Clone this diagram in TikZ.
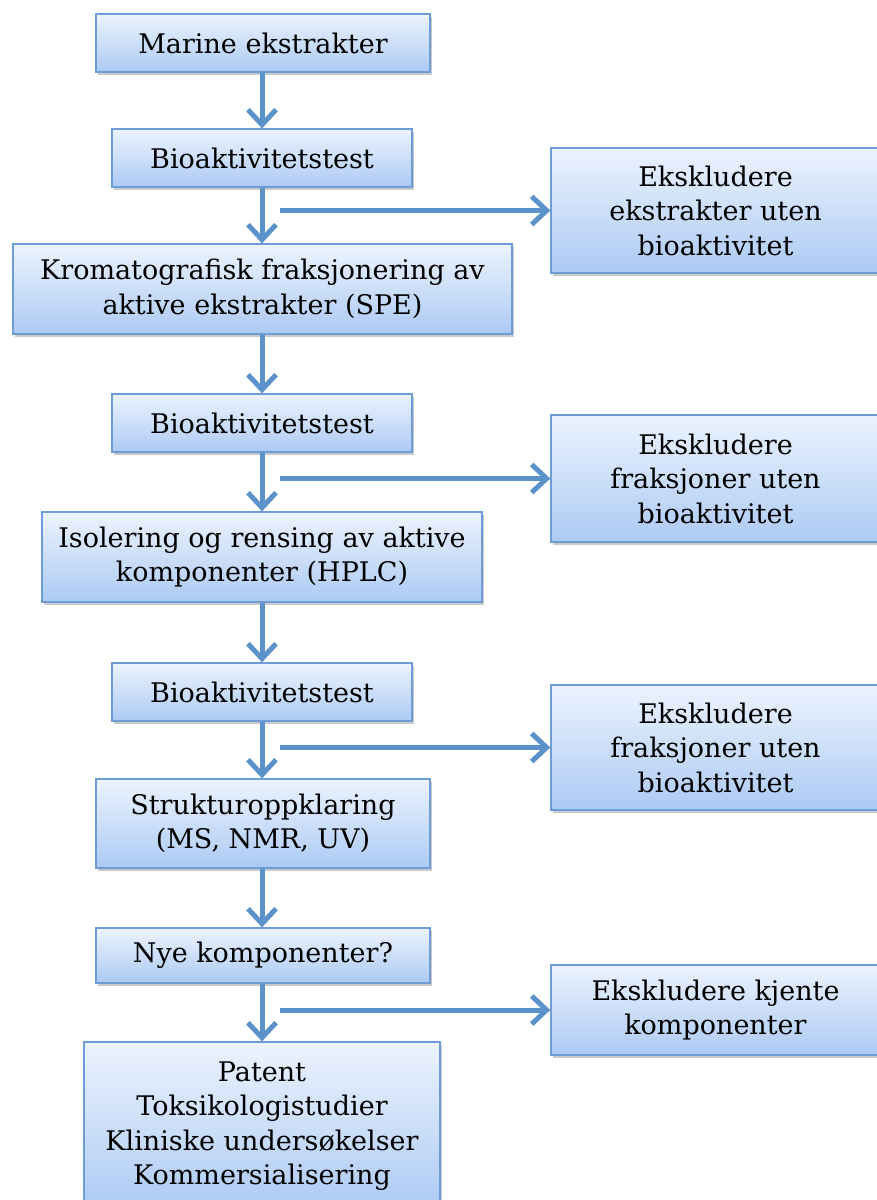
\documentclass[tikz,border=0pt]{standalone}
\usepackage{fontspec}
\setmainfont{DejaVu Serif}
\usetikzlibrary{arrows.meta,shadows}
\definecolor{arrowblue}{RGB}{92,146,202}
\definecolor{boxborder}{RGB}{110,156,212}
\definecolor{boxtop}{RGB}{236,243,254}
\definecolor{boxbottom}{RGB}{172,202,244}
\tikzset{
  box/.style={draw=boxborder, line width=1.3pt, top color=boxtop, bottom color=boxbottom,
    rectangle, inner sep=2pt, align=center, font=\fontsize{27}{34.5}\selectfont,
    drop shadow={shadow xshift=2pt, shadow yshift=-3pt, opacity=0.3, fill=black!70}},
  flow/.style={draw=arrowblue, line width=5pt, -{Straight Barb[length=15pt,width=28pt,line width=5pt]}}
}
\begin{document}
\begin{tikzpicture}[x=1pt,y=-1pt]
\useasboundingbox (0,0) rectangle (876,1200);
\newcommand{\bx}[6]{% name, x1,y1,x2,y2,text
  \node[box, minimum width={#4-#2}, minimum height={#5-#3}] (#1) at ({(#2+#4)/2},{(#3+#5)/2}) {#6};}
\bx{a}{96}{14}{430}{72}{Marine ekstrakter}
\bx{b}{112}{129}{412}{187}{Bioaktivitetstest}
\bx{e1}{551}{148}{880}{273}{Ekskludere\\ekstrakter uten\\bioaktivitet}
\bx{c}{13}{244}{512}{334}{Kromatografisk fraksjonering av\\aktive ekstrakter (SPE)}
\bx{d}{112}{394}{412}{452}{Bioaktivitetstest}
\bx{e2}{551}{415}{880}{542}{Ekskludere\\fraksjoner uten\\bioaktivitet}
\bx{f}{42}{512}{482}{602}{Isolering og rensing av aktive\\komponenter (HPLC)}
\bx{g}{112}{663}{412}{721}{Bioaktivitetstest}
\bx{e3}{551}{685}{880}{810}{Ekskludere\\fraksjoner uten\\bioaktivitet}
\bx{h}{96}{779}{430}{868}{Strukturoppklaring\\(MS, NMR, UV)}
\bx{i}{96}{928}{430}{983}{Nye komponenter?}
\bx{e4}{551}{965}{880}{1055}{Ekskludere kjente\\komponenter}
\bx{j}{84}{1042}{440}{1210}{Patent\\Toksikologistudier\\Kliniske undersøkelser\\Kommersialisering}
\coordinate (s1) at (280,210.5);
\coordinate (s2) at (280,478.5);
\coordinate (s3) at (280,747.5);
\coordinate (s4) at (280,1010);
\draw[flow] (a.south -| 262,0) -- (b.north -| 262,0);
\draw[flow] (b.south -| 262,0) -- (c.north -| 262,0);
\draw[flow] (c.south -| 262,0) -- (d.north -| 262,0);
\draw[flow] (d.south -| 262,0) -- (f.north -| 262,0);
\draw[flow] (f.south -| 262,0) -- (g.north -| 262,0);
\draw[flow] (g.south -| 262,0) -- (h.north -| 262,0);
\draw[flow] (h.south -| 262,0) -- (i.north -| 262,0);
\draw[flow] (i.south -| 262,0) -- (j.north -| 262,0);
\draw[flow] (s1) -- (e1.west);
\draw[flow] (s2) -- (e2.west);
\draw[flow] (s3) -- (e3.west);
\draw[flow] (s4) -- (e4.west);
\end{tikzpicture}
\end{document}
